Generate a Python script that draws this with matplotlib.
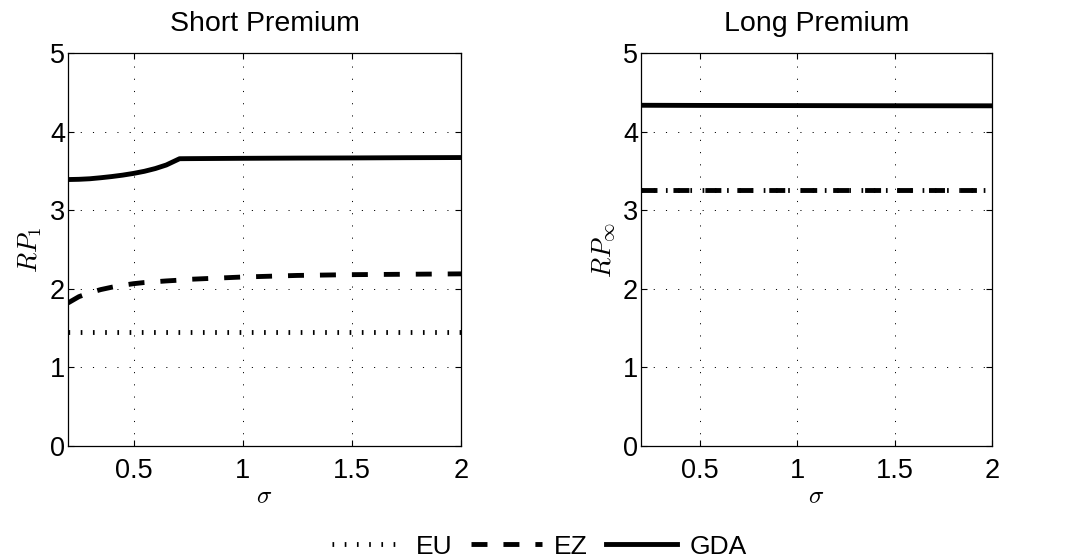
import matplotlib
matplotlib.use("Agg")
import matplotlib.pyplot as plt

plt.rcParams['font.family'] = ['Liberation Sans', 'DejaVu Sans']
plt.rcParams['mathtext.fontset'] = 'cm'
plt.rcParams['lines.scale_dashes'] = False

# ---- data ----
sigma_short = [0.2, 0.25, 0.3, 0.35, 0.4, 0.45, 0.5, 0.55, 0.6, 0.65, 0.711, 0.75, 1.0, 1.25, 1.5, 1.75, 2.0]
eu_short = [1.455] * len(sigma_short)
ez_short = [1.82, 1.90, 1.95, 1.99, 2.02, 2.045, 2.065, 2.08, 2.09, 2.10, 2.11, 2.12, 2.15, 2.17, 2.18, 2.185, 2.19]
gda_short = [3.39, 3.393, 3.40, 3.413, 3.428, 3.446, 3.468, 3.495, 3.53, 3.575, 3.655, 3.656, 3.66, 3.663, 3.665, 3.668, 3.67]

sigma_long = [0.2, 0.5, 1.0, 1.5, 2.0]
eu_long = [3.255, 3.255, 3.255, 3.255, 3.255]
ez_long = [3.255, 3.255, 3.255, 3.255, 3.255]
gda_long = [4.335, 4.333, 4.331, 4.329, 4.328]

titles = ["Short Premium", "Long Premium"]
ylabels = [r"$RP_1$", r"$RP_\infty$"]
xticks = [0.5, 1, 1.5, 2]
xticklabels = ["0.5", "1", "1.5", "2"]
yticks = [0, 1, 2, 3, 4, 5]
legend_labels = ["EU", "EZ", "GDA"]

fig = plt.figure(figsize=(10.66, 5.6), dpi=100)
ax1 = fig.add_axes([68/1066, 1-446/560, 393/1066, 393/560])
ax2 = fig.add_axes([641/1066, 1-446/560, 351/1066, 393/560])

eu_style = dict(color='black', lw=3.5, linestyle=(0, (1.2, 7.6)), dash_capstyle='butt')
ez_style = dict(color='black', lw=3.5, linestyle=(0, (11.5, 11.5)), dash_capstyle='butt')
gda_style = dict(color='black', lw=3.5, linestyle='-')

handles = []
for ax, x, eu, ez, gda in [(ax1, sigma_short, eu_short, ez_short, gda_short),
                           (ax2, sigma_long, eu_long, ez_long, gda_long)]:
    h1, = ax.plot(x, eu, **eu_style)
    h2, = ax.plot(x, ez, **ez_style)
    h3, = ax.plot(x, gda, **gda_style)
    handles = [h1, h2, h3]

for ax, t, yl in zip([ax1, ax2], titles, ylabels):
    ax.set_xlim(0.2, 2)
    ax.set_ylim(0, 5)
    ax.set_xticks(xticks)
    ax.set_xticklabels(xticklabels)
    ax.set_yticks(yticks)
    ax.grid(True, color='black', linestyle=(0, (0.8, 8)), linewidth=0.7)
    ax.tick_params(direction='in', length=4, width=0.8, top=True, right=True,
                   labelsize=19.5)
    ax.tick_params(axis='x', pad=9)
    ax.tick_params(axis='y', pad=2)
    for s in ax.spines.values():
        s.set_linewidth(0.9)
    ax.set_title(t, fontsize=20.5, pad=16)
    ax.set_xlabel(r"$\sigma$", fontsize=18, labelpad=0)
    ax.set_ylabel(yl, fontsize=19, labelpad=4)

fig.legend(handles, legend_labels, loc='lower center', bbox_to_anchor=(0.506, -0.04),
           ncol=3, frameon=False, fontsize=19, handlelength=2.7,
           handletextpad=0.45, columnspacing=0.7)

fig.savefig("out.png", dpi=100)
